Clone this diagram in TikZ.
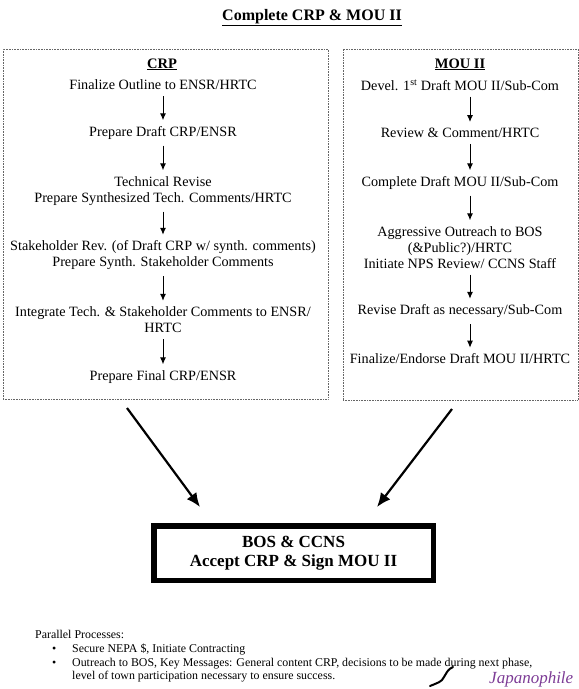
\documentclass[tikz,border=0pt]{standalone}
\usepackage{fontspec}
\setmainfont{Liberation Serif}
\usetikzlibrary{arrows.meta}
\definecolor{markpurple}{RGB}{125,60,150}

\begin{document}
\begin{tikzpicture}[x=1pt,y=-1pt,
  stage/.style={align=center,inner xsep=2pt,inner ysep=6pt,font=\fontsize{14.2}{16}\selectfont},
  head/.style={anchor=base,inner sep=0pt,font=\fontsize{14.5}{16}\selectfont\bfseries},
  frame/.style={draw=black!60,densely dotted,line width=0.6pt},
  flow/.style={draw,line width=1pt,-{Latex[length=7pt,width=6pt]}},
  bigflow/.style={draw,line width=2.2pt,-{Latex[length=14pt,width=12pt]}},
  note/.style={anchor=base west,inner sep=0pt,font=\fontsize{11.9}{14}\selectfont}]
\useasboundingbox (0,0) rectangle (579,689);

\node[anchor=base,inner sep=0pt,font=\fontsize{16}{18}\selectfont\bfseries] (title) at (312,20) {\underline{Complete CRP \& MOU II}};

% dotted frames
\node[frame,minimum width=325pt,minimum height=350pt] (crpframe) at (165.5,224) {};
\node[frame,minimum width=235pt,minimum height=351pt] (mouframe) at (460.5,224.5) {};

% CRP column
\node[head] (crphead) at (162,68) {\underline{CRP}};
\node[stage] (c1) at (163,85) {Finalize Outline to ENSR/HRTC};
\node[stage] (c2) at (163,133) {Prepare Draft CRP/ENSR};
\node[stage] (c3) at (163,191) {Technical Revise\\Prepare Synthesized Tech. Comments/HRTC};
\node[stage] (c4) at (163,255.5) {Stakeholder Rev. (of Draft CRP w/ synth. comments)\\Prepare Synth. Stakeholder Comments};
\node[stage] (c5) at (163,320) {Integrate Tech. \& Stakeholder Comments to ENSR/\\HRTC};
\node[stage] (c6) at (163,377) {Prepare Final CRP/ENSR};

\path[flow] (c1) -- (c2);
\path[flow] (c2) -- (c3);
\path[flow] (c3) -- (c4);
\path[flow] (c4) -- (c5);
\path[flow] (c5) -- (c6);

% MOU II column
\node[head] (mouhead) at (460,68) {\underline{MOU II}};
\node[stage] (m1) at (460,85) {Devel. 1\textsuperscript{st} Draft MOU II/Sub-Com};
\node[stage] (m2) at (460,133) {Review \& Comment/HRTC};
\node[stage] (m3) at (460,183) {Complete Draft MOU II/Sub-Com};
\node[stage] (m4) at (460,247.5) {Aggressive Outreach to BOS\\(\&Public?)/HRTC\\Initiate NPS Review/ CCNS Staff};
\node[stage] (m5) at (460,311.5) {Revise Draft as necessary/Sub-Com};
\node[stage] (m6) at (460,359) {Finalize/Endorse Draft MOU II/HRTC};

\path[flow] ([xshift=10pt]m1.south) -- ([xshift=10pt]m2.north);
\path[flow] ([xshift=10pt]m2.south) -- ([xshift=10pt]m3.north);
\path[flow] ([xshift=10pt]m3.south) -- ([xshift=10pt]m4.north);
\path[flow] ([xshift=10pt]m4.south) -- ([xshift=10pt]m5.north);
\path[flow] ([xshift=10pt]m5.south) -- ([xshift=10pt]m6.north);

% joint step
\node[draw,line width=5.5pt,minimum width=279.5pt,minimum height=54.5pt,align=center,
  font=\fontsize{17}{19.5}\selectfont\bfseries] (sign) at (293.5,553) {BOS \& CCNS\\Accept CRP \& Sign MOU II};

\coordinate (crpout) at (127,408);
\coordinate (crpin) at (200,507);
\coordinate (mouout) at (452,409);
\coordinate (mouin) at (377,507);
\path[bigflow] (crpout) -- (crpin);
\path[bigflow] (mouout) -- (mouin);

% parallel processes
\node[note] (pp) at (35,638) {Parallel Processes:};
\node[note] (dot1) at (52,652) {\textbullet};
\node[note] (p1) at (72,652) {Secure NEPA \$, Initiate Contracting};
\node[note] (dot2) at (52,666) {\textbullet};
\node[note] (p2) at (72,666) {Outreach to BOS, Key Messages: General content CRP, decisions to be made during next phase,};
\node[note] (p3) at (72,679) {level of town participation necessary to ensure success.};

% mark
\draw[line width=2pt,line cap=round] (430,686) .. controls (437,683) and (442,682) .. (444,677) -- (447,672) .. controls (449,669) and (451,668) .. (453,667);
\node[anchor=base west,inner sep=0pt,font=\fontsize{17}{17}\selectfont\itshape,text=markpurple] (mark) at (489,683) {Japanophile};
\end{tikzpicture}
\end{document}
